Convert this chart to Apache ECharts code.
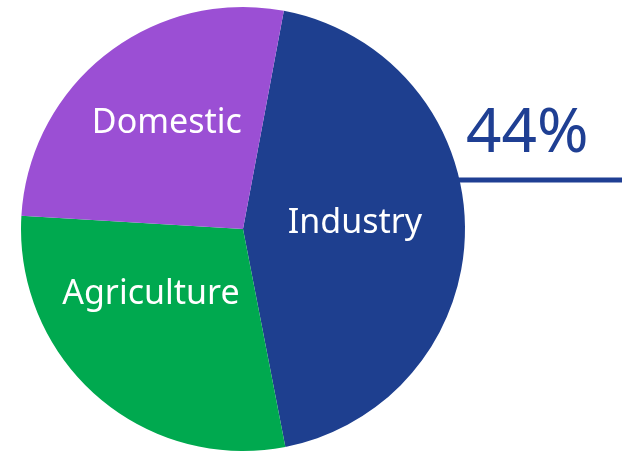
<!DOCTYPE html>
<html>
<head>
<meta charset="utf-8">
<script src="https://cdn.jsdelivr.net/npm/echarts@6/dist/echarts.min.js"></script>
<style>
html, body { margin: 0; padding: 0; background: #fff; }
#main { width: 622px; height: 451px; }
</style>
</head>
<body>
<div id="main"></div>
<script>
var categories = ['Industry', 'Agriculture', 'Domestic'];
var shares = [44, 29, 27];
var colors = ['#1e3f8f', '#00a94f', '#9b4fd4'];
var labelShift = [[-2, -5], [-17, -20], [-6, -16]];

var chart = echarts.init(document.getElementById('main'));

var total = shares.reduce(function (a, b) { return a + b; }, 0);
var highlight = Math.round(shares[0] / total * 100) + '%';

var pieData = categories.map(function (name, i) {
    return {
        name: name,
        value: shares[i],
        itemStyle: { color: colors[i] },
        label: { offset: labelShift[i] }
    };
});

var option = {
    animation: false,
    backgroundColor: '#ffffff',
    graphic: [
        {
            type: 'line',
            z: -1,
            shape: { x1: 440, y1: 180, x2: 622, y2: 180 },
            style: { stroke: '#1f3f93', lineWidth: 5 }
        },
        {
            type: 'text',
            left: 466,
            top: 103,
            style: {
                text: highlight,
                fill: '#1f3f93',
                font: '62px "Noto Sans"'
            }
        }
    ],
    series: [
        {
            type: 'pie',
            center: [243, 229],
            radius: 222,
            startAngle: 79.4,
            clockwise: true,
            z: 2,
            itemStyle: { borderWidth: 0 },
            label: {
                show: true,
                position: 'inside',
                color: '#ffffff',
                fontSize: 34,
                fontFamily: 'Noto Sans',
                formatter: '{b}'
            },
            labelLine: { show: false },
            emphasis: { disabled: true },
            data: pieData
        }
    ]
};

chart.setOption(option);
window.addEventListener('resize', chart.resize);
</script>
</body>
</html>
